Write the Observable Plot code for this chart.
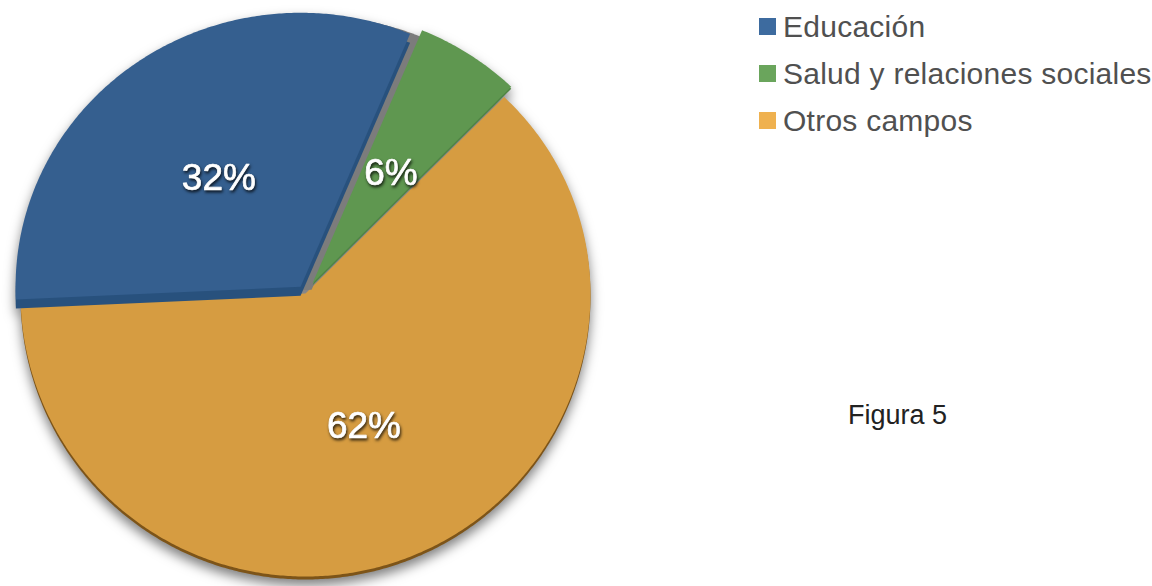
<!DOCTYPE html>
<html>
<head>
<meta charset="utf-8">
<script src="https://cdn.jsdelivr.net/npm/d3@7"></script>
<script src="https://cdn.jsdelivr.net/npm/@observablehq/plot@0.6"></script>
<style>
  html, body { margin: 0; padding: 0; background: #fff; }
  #wrap { position: relative; width: 1152px; height: 586px; overflow: hidden; font-family: "Liberation Sans", Arial, sans-serif; }
  #chart { position: absolute; left: 0; top: 0; }
  #legend { position: absolute; left: 759px; top: 3px; }
  .row { display: flex; align-items: center; height: 47px; }
  .sw { width: 17px; height: 17px; margin-right: 7px; flex: none; }
  .lab { font-size: 30px; letter-spacing: 0.25px; color: #505050; line-height: 1; white-space: nowrap; }
  #caption { position: absolute; left: 848px; top: 402px; font-size: 27px; line-height: 27px; color: #222; }
  #err { position: absolute; left: 10px; top: 10px; font-size: 14px; color: red; width: 700px; }
</style>
</head>
<body>
<div id="wrap">
  <div id="chart"></div>
  <div id="legend"></div>
  <div id="caption">Figura 5</div>
  <div id="err"></div>
</div>
<script>
// ---- data ----
const categories = ["Educación", "Salud y relaciones sociales", "Otros campos"];
const values = [32, 6, 62];
const labels = ["32%", "6%", "62%"];
const faceColors = ["#355f8f", "#5f9750", "#d69c41"];
const legendColors = ["#3d6b9f", "#6aa55c", "#efb14f"];
const explode = [0.03, 0.045, 0];
const startDeg = -92.6;

try {
// ---- build slice polygons (unit circle, clockwise from north) ----
const total = d3.sum(values);
const points = [];
const labelPts = [];
let acc = startDeg * Math.PI / 180;
values.forEach((v, i) => {
  const a0 = acc, a1 = acc + v / total * 2 * Math.PI;
  acc = a1;
  const mid = (a0 + a1) / 2;
  const ox = Math.sin(mid) * explode[i], oy = Math.cos(mid) * explode[i];
  points.push({i, x: ox, y: oy});
  const n = Math.max(8, Math.ceil((a1 - a0) / (Math.PI / 360)));
  for (let k = 0; k <= n; k++) {
    const a = a0 + (a1 - a0) * k / n;
    points.push({i, x: ox + Math.sin(a), y: oy + Math.cos(a)});
  }
  points.push({i, x: ox, y: oy});
  labelPts.push({i, x: ox + 0.5 * Math.sin(mid), y: oy + 0.5 * Math.cos(mid), text: labels[i]});
});

const slice = (i, fill, opts = {}) =>
  Plot.line(points.filter(d => d.i === i), {x: "x", y: "y", fill, stroke: "none", ...opts});

const chart = Plot.plot({
  width: 1152,
  height: 586,
  margin: 0,
  x: {type: "linear", domain: [-1, 0, 1], range: [20, 305, 590], axis: null},
  y: {type: "linear", domain: [-1, 0, 1], range: [576, 293, 19], axis: null},
  marks: [
    slice(2, "#7d5418", {dy: 3}),
    slice(2, faceColors[2]),
    slice(0, "#7c7c7c", {dx: 11, dy: 3}),
    slice(0, "#28517d", {dy: 9}),
    slice(0, faceColors[0]),
    slice(1, "#4f8443", {dy: 2}),
    slice(1, faceColors[1]),
    Plot.text(labelPts, {x: "x", y: "y", text: "text", fill: "white", stroke: "white", strokeWidth: 0.7, dy: 4, fontSize: 37, fontFamily: "Liberation Sans, Arial, sans-serif"})
  ]
});
document.getElementById("chart").appendChild(chart);

// shadow around pie
const lines = Array.from(chart.querySelectorAll('g[aria-label="line"]'));
if (lines.length) {
  const g = document.createElementNS("http://www.w3.org/2000/svg", "g");
  g.setAttribute("style", "filter: drop-shadow(0px 6px 6px rgba(0,0,0,0.5))");
  lines[0].parentNode.insertBefore(g, lines[0]);
  lines.forEach(l => g.appendChild(l));
}
const txt = chart.querySelector('g[aria-label="text"]');
if (txt) txt.setAttribute("style", "filter: drop-shadow(1px 2px 1.5px rgba(0,0,0,0.8))");
} catch (e) {
  document.getElementById("err").textContent = String(e && e.stack || e);
}

// legend
const legend = document.getElementById("legend");
categories.forEach((c, i) => {
  const row = document.createElement("div");
  row.className = "row";
  const sw = document.createElement("div");
  sw.className = "sw";
  sw.style.background = legendColors[i];
  const lab = document.createElement("div");
  lab.className = "lab";
  lab.textContent = c;
  row.appendChild(sw);
  row.appendChild(lab);
  legend.appendChild(row);
});
</script>
</body>
</html>
